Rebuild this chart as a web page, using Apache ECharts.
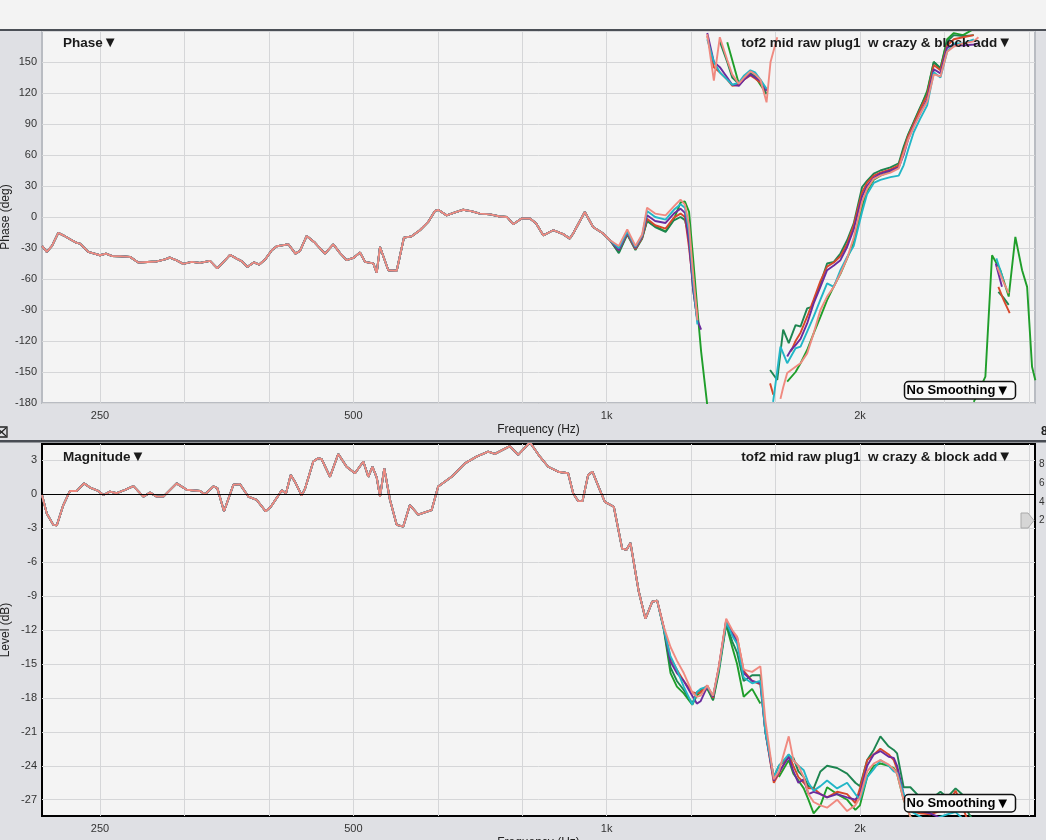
<!DOCTYPE html>
<html><head><meta charset="utf-8">
<script src="https://cdn.jsdelivr.net/npm/echarts@6/dist/echarts.min.js"></script>
<style>html,body{margin:0;padding:0;background:#dfe0e4;}#c{width:1046px;height:840px;}</style>
</head><body><div id="c"></div>
<script>
// ---------- axis ticks ----------
const gridFreqs = [250, 315, 396.9, 500, 630, 793.7, 1000, 1259.9, 1587.4, 2000, 2519.8, 3174.8];
const freqLabels = [250, 500, 1000, 2000];
const levelTicks = [-27, -24, -21, -18, -15, -12, -9, -6, -3, 0, 3];

// ---------- series ----------
const seriesNames = ['green', 'dark green', 'red', 'purple', 'cyan', 'salmon'];
const seriesColors = ['#1f9e2a', '#1d8550', '#d8482c', '#6b2b9e', '#22b6c6', '#f08a80'];

// phase, shared part (all traces overlap) [Hz, deg]
const phaseLow = [[213.3,-28],[216.1,-33.8],[219.2,-28],[223.0,-15.4],[226.1,-17.7],[230.3,-21.5],[234.6,-25],[236.7,-25.7],[242.1,-33.8],[250,-37],[254.1,-35.4],[258.1,-37.7],[264.1,-38],[271.4,-38.6],[277.6,-44],[292.0,-43],[298.7,-41],[302.7,-39.2],[308.3,-42],[313.9,-45.4],[321.2,-43.4],[328.7,-44.4],[337.8,-42.5],[344.6,-49.8],[351.0,-43],[356.8,-36.7],[363.4,-40.3],[368.7,-43],[374.1,-48.3],[381.0,-43.8],[386.6,-46],[392.7,-41.2],[400.0,-32.2],[405.5,-28.3],[411.4,-27.5],[418.6,-26.4],[426.7,-35.4],[432.1,-32.8],[440.1,-18.3],[450.2,-25],[462.7,-35.4],[473.3,-26.4],[482.1,-35],[490.9,-41.8],[500,-39.6],[509.2,-34.4],[516.3,-43.4],[528.1,-44.9],[533.0,-54],[537.9,-29],[550.2,-51.5],[563.0,-52],[574.3,-19.9],[586.5,-18.7],[599.9,-12.8],[613.4,-5],[625.1,5.8],[630.7,7],[645.4,1.6],[660.4,4.5],[675.4,7],[691.9,5.5],[706.9,3.3],[726.8,2.5],[746.7,0.5],[761.4,0],[774.3,-7],[792.4,-1.5],[810.7,-1.5],[824.3,-6],[840.7,-17.7],[863.9,-12.8],[887.8,-16.6],[904.2,-20.9],[912.4,-16],[942.0,4.8],[963.6,-9.7],[990.5,-16],[1009.3,-22.5]];

// phase, per-trace part [Hz, deg]; null = gap / wrap
const phaseHiGreen = [[1034,-34],[1058,-16],[1082,-31],[1102,-20],[1117,-3.5],[1142,-9],[1175,-14],[1202,-2],[1224,14],[1239,15],[1253,5],[1267,-40],[1282,-90],[1295,-130],[1317,-182],[1330,null],[1391,169],[1436,129],[1457,134],[1482,139],[1501,136],[1523,128],[1549,119],[1600,null],[1639,-159.3],[1677,-150],[1700,-141.5],[1731,-128.7],[1762,-112.6],[1795,-96.6],[1828,-80.4],[1862,-67],[1896,-55],[1931,-40],[1966,-25],[2012,10],[2039,25],[2077,36],[2115,40],[2174,44],[2224,50],[2254,66],[2282,79],[2317,91],[2358,105],[2404,122],[2448,150],[2493,144],[2539,172],[2586,178],[2652,176],[2731,182],[2740,null],[2731,-179],[2819,-154.5],[2871,-37],[2937,-51.5],[3005,-77],[3060,-19.3],[3117,-51.5],[3160,-67.6],[3203,-145],[3232,-158]];
const phaseHiDkgreen = [[1034,-35],[1058,-17],[1082,-32],[1102,-21],[1117,-3.9],[1142,-9.7],[1175,-14.5],[1202,-3.2],[1224,0],[1239,-3],[1253,-20],[1267,-70],[1282,-100],[1295,null],[1363,170],[1391,150],[1410,135],[1436,129],[1457,134],[1482,139],[1501,137],[1523,130],[1549,119],[1556,null],[1564,-148],[1595,-157.7],[1621,-109],[1646,-122],[1677,-104.6],[1700,-106],[1731,-88.4],[1753,-86.9],[1795,-64.3],[1828,-45],[1862,-43.4],[1896,-35.3],[1931,-22.5],[1966,-6.4],[2012,29],[2039,35],[2077,42],[2115,45],[2174,48],[2224,52],[2254,68],[2282,80],[2317,92],[2358,106],[2404,120],[2448,150],[2493,144],[2539,170],[2586,176],[2652,175],[2731,176],[2800,null],[2921,-72.4],[2962,-78],[3005,-85]];
const phaseHiRed = [[1034,-32],[1058,-16],[1082,-31],[1102,-20],[1117,-1.6],[1142,-8],[1175,-11.3],[1202,-0.6],[1224,3.3],[1239,0],[1253,-30],[1267,-65],[1282,-95],[1295,null],[1317,175],[1341,145],[1363,140],[1391,133],[1410,127],[1436,128],[1457,133],[1482,137],[1501,134],[1523,130],[1549,123],[1556,null],[1564,-161],[1578,-172],[1590,null],[1656,-130],[1677,-120],[1700,-112],[1731,-96.5],[1762,-80],[1795,-62],[1828,-48],[1862,-44],[1896,-38],[1931,-26],[1966,-8],[2012,24],[2039,33],[2077,40],[2115,43],[2174,46],[2224,50],[2254,64],[2282,78],[2317,90],[2358,104],[2404,118],[2448,147],[2493,142],[2539,166],[2586,172],[2652,174],[2731,176],[2800,null],[2921,-67.6],[2962,-80],[3013,-93]];
const phaseHiPurple = [[1034,-32],[1058,-15],[1082,-30],[1102,-19],[1117,1.6],[1142,-3.9],[1175,-5.8],[1202,3.3],[1224,8.1],[1239,4],[1253,-25],[1267,-70],[1282,-100],[1295,-109],[1305,null],[1317,178],[1341,150],[1363,145],[1391,135],[1410,128],[1436,127],[1457,133],[1482,138],[1501,135],[1523,132],[1549,122],[1600,null],[1639,-135],[1656,-128.7],[1677,-124],[1700,-118],[1731,-103],[1762,-83.6],[1795,-67.6],[1828,-51.5],[1862,-47],[1896,-41.8],[1931,-29],[1966,-12],[2012,20],[2039,30],[2077,38],[2115,42],[2174,45],[2224,48],[2254,60],[2282,75],[2317,88],[2358,100],[2404,114],[2448,143],[2493,139],[2539,164],[2586,167],[2652,166],[2731,167],[2766,168],[2800,null],[2900,-45],[2950,-67.6]];
const phaseHiCyan = [[1034,-30],[1058,-14],[1082,-29],[1102,-18],[1117,5.8],[1142,0],[1175,-2.6],[1202,7],[1224,12.3],[1239,9],[1253,-14],[1267,-62],[1282,-104],[1295,null],[1317,172],[1341,150],[1363,140],[1391,133],[1410,128],[1436,130],[1457,137],[1482,142],[1501,140],[1523,133],[1549,124],[1565,null],[1577,-179],[1609,-125.5],[1639,-141.5],[1677,-127],[1700,-125.5],[1731,-111],[1762,-96.5],[1795,-80],[1828,-64.3],[1862,-67.6],[1896,-51.5],[1931,-38.6],[1966,-28],[2012,5],[2039,22],[2077,33],[2115,36],[2174,38.6],[2224,40],[2254,50],[2282,65],[2317,82],[2358,95],[2404,108],[2448,140],[2493,135],[2539,160],[2586,168],[2652,168],[2731,172],[2800,null],[2905,-40],[2962,-61]];
const phaseHiSalmon = [[1034,-28],[1058,-12],[1082,-28],[1102,-17],[1117,9],[1142,3.3],[1175,1.6],[1202,10.3],[1224,16.8],[1239,12],[1253,-8],[1267,-55],[1282,-100],[1295,null],[1317,177],[1341,132],[1363,174],[1391,152],[1410,138],[1436,129],[1457,135],[1482,141],[1501,138],[1523,133],[1549,111],[1566,150],[1595,174],[1602,null],[1609,-176],[1621,-165],[1639,-151],[1677,-145],[1700,-141.5],[1731,-132],[1762,-112.6],[1795,-90],[1828,-77],[1862,-67.6],[1896,-54.6],[1931,-40],[1966,-20],[2012,15],[2039,27],[2077,37],[2115,40],[2174,43],[2224,47],[2254,62],[2282,75],[2317,87],[2358,100],[2404,112],[2448,138],[2493,136],[2539,160],[2586,165],[2652,168],[2731,170],[2766,174],[2800,null],[2911,-48],[2959,-62],[3005,-74]];

// magnitude, shared part [Hz, dB]
const magLow = [[213.3,-0.05],[216.1,-1.7],[220.0,-2.7],[222.1,-2.75],[226.1,-0.95],[230.3,0.3],[234.6,0.3],[239.3,0.97],[243.3,0.6],[248.8,0.3],[252.3,-0.06],[256.9,0.24],[261.7,0.1],[267.7,0.4],[273.9,0.73],[281.5,-0.2],[286.7,0.15],[292.0,-0.2],[297.3,-0.2],[308.3,0.97],[316.9,0.4],[328.7,0.3],[333.2,0],[340.9,0.7],[344.6,0.55],[351.0,-1.5],[360.1,0.85],[366.7,0.9],[375.1,-0.2],[383.9,-0.5],[393.4,-1.5],[398.9,-1.1],[411.1,0.35],[415.9,0.1],[421.3,1.7],[426.3,1.1],[434.1,-0.1],[438.1,0.5],[448.1,2.9],[454.3,3.2],[458.5,3.1],[469.1,1.55],[479.8,3.57],[490.9,2.44],[502.3,1.86],[513.9,2.9],[520.9,1.55],[526.7,2.44],[533.0,1.5],[537.9,-0.2],[544.2,2.3],[552.8,-0.5],[563.0,-2.7],[573.2,-2.85],[583.7,-0.95],[597.1,-1.8],[619.4,-1.4],[630.7,0.7],[654.3,1.55],[678.6,2.74],[700.5,3.33],[723.1,3.77],[736.5,3.57],[767.4,4.27],[785.0,3.48],[810.7,4.6],[833.1,3.33],[852.2,2.44],[875.8,2.0],[900.0,1.86],[912.4,0.1],[924.9,-0.6],[936.1,-0.6],[950.5,1.7],[962.0,2.0],[981.5,0.4],[995.2,-0.66],[1019.8,-1.1],[1043.4,-4.8],[1055.8,-4.9],[1067.4,-4.3],[1091.9,-8.6],[1112.1,-11],[1132.6,-9.5],[1148.3,-9.4]];

// magnitude, per-trace part
const magHiFreq = [1169,1191,1212,1235,1264,1280,1293,1317,1338,1359,1387,1410,1429,1455,1489,1523,1544,1580,1602,1646,1667,1690,1715,1737,1762,1795,1828,1879,1931,1975,2000,2040,2077,2115,2164,2194,2214,2254,2296,2358,2423,2493,2539,2598,2643,2692,2766];
const magHiGreen = [-11.9,-15.8,-17,-17.6,-18.6,-17.8,-17.5,-17.2,-18.2,-15.8,-11.5,-13.5,-15,-17.9,-17.2,-18.5,null,null,-25,-23.5,-24.7,-25.3,-26,-27,-28.2,-27.5,-25.9,-26.5,-27,-27.9,-27.5,-25,-24,-23.8,-24,-24.2,-24.7,-27,-28.5,-29,-29.5,-29,-29.5,-30,-31,-32,-33];
const magHiDkgreen = [-11.8,-15.3,-16.5,-17.3,-18.5,-17.5,-17.3,-17,-18.2,-15.5,-11.4,-13,-14,-16.5,-16,-16,-21,-25,-24,-23.2,-23.3,-24.5,-25,-25.8,-26,-24.5,-24,-24.2,-24.7,-25.5,-25.8,-23.5,-22.6,-21.4,-22.3,-22.6,-22.9,-25.9,-25.9,-26.8,-27,-26.3,-26.8,-26,-26.5,-28.2,-29.5];
const magHiRed = [-11.7,-14.5,-15.5,-16.5,-17.5,-17.6,-17.5,-16.9,-18,-15.3,-11.1,-12.2,-12.6,-15.6,-16.5,-16.8,-21,-25.5,-24.7,-23,-24,-25,-25.5,-26,-26,-26.5,-26.8,-26.3,-26.5,-27.3,-26,-23.5,-23,-22.5,-23,-23.5,-24.3,-26.8,-28,-28.2,-28.3,-28,-27.6,-26.2,-27.5,-29,-31];
const magHiPurple = [-11.8,-14.8,-15.8,-16.5,-17.8,-18.5,-18.3,-17,-17.9,-15.4,-11.2,-12.3,-13,-15.8,-16.5,-16.7,-21,-25.3,-24.6,-23.2,-24.5,-25.5,-25.2,-26.5,-26.3,-26.5,-26.8,-26.5,-26.8,-27,-26.5,-24,-23,-22.7,-23.2,-23.3,-24,-26.5,-28,-28,-28.2,-28.6,-29,-29.5,-30,-31,-32];
const magHiCyan = [-11.9,-14.3,-15.5,-17,-18.6,-17.5,-17.2,-17,-17.8,-15.5,-11.3,-12.5,-13.2,-16.2,-16.7,-16.5,-21,-25,-24,-23,-23.5,-24,-24.4,-25.5,-26.2,-25.8,-25.3,-26,-25.5,-26.5,-27,-25,-24.3,-23.5,-24,-24.5,-24.6,-26.5,-28,-28.5,-29,-28.5,-28.3,-28.1,-28.6,-30,-31];
const magHiSalmon = [-11.7,-13.5,-14.7,-15.8,-17.5,-17.9,-17.8,-16.9,-17.8,-15.3,-11.0,-12.0,-12.6,-15.5,-15.7,-15.2,-20,-25.2,-24.5,-21.4,-23.5,-24,-25,-26.5,-27.2,-27.5,-27.7,-27,-28,-27.5,-26.8,-24.5,-23.8,-23.5,-23.9,-24.3,-24.7,-27,-28.5,-29.5,-30,-30,-29,-28.8,-29,-30,-31];

const phaseHi = [phaseHiGreen, phaseHiDkgreen, phaseHiRed, phaseHiPurple, phaseHiCyan, phaseHiSalmon];
const magHi = [magHiGreen, magHiDkgreen, magHiRed, magHiPurple, magHiCyan, magHiSalmon];

// ---------- chart ----------
const FONT = "'Liberation Sans', Arial, Helvetica, sans-serif";
const chart = echarts.init(document.getElementById('c'), null, {width: 1046, height: 840});
const fmtFreq = v => v >= 1000 ? (v / 1000) + 'k' : String(v);
const splitStyle = {color: '#d5d6d8', width: 1};

const series = [];
seriesNames.forEach((name, i) => {
  series.push({
    name: name, type: 'line', xAxisIndex: 0, yAxisIndex: 0, showSymbol: false, symbol: 'none',
    connectNulls: false, animation: false, clip: true,
    lineStyle: {color: seriesColors[i], width: 1.9}, itemStyle: {color: seriesColors[i]},
    data: phaseLow.concat(phaseHi[i])
  });
});
seriesNames.forEach((name, i) => {
  const s = {
    name: name, type: 'line', xAxisIndex: 1, yAxisIndex: 1, showSymbol: false, symbol: 'none',
    connectNulls: false, animation: false, clip: true,
    lineStyle: {color: seriesColors[i], width: 1.9}, itemStyle: {color: seriesColors[i]},
    data: magLow.concat(magHiFreq.map((f, k) => [f, magHi[i][k]]))
  };
  if (i === 0) {
    s.markLine = {silent: true, symbol: ['none', 'none'], label: {show: false}, animation: false,
      lineStyle: {color: '#000', width: 1.2, type: 'solid'}, data: [{yAxis: 0}]};
  }
  series.push(s);
});

const xAxisBase = (gi) => ({
  type: 'log', logBase: 10, gridIndex: gi, min: 213.3, max: 3229,
  axisLine: {show: false},
  axisTick: {show: false, customValues: gridFreqs},
  splitLine: {show: true, lineStyle: splitStyle},
  axisLabel: {customValues: freqLabels, formatter: fmtFreq, color: '#333', fontSize: 11, fontFamily: FONT, margin: 7},
  name: 'Frequency (Hz)', nameLocation: 'middle', nameGap: 21, nameMoveOverlap: false,
  nameTextStyle: {color: '#222', fontSize: 12, fontFamily: FONT}
});

const titleRich = {
  a: {font: 'bold 13.5px ' + FONT, fill: '#1a1a1a', color: '#1a1a1a'},
  b: {font: 'bold 15px ' + FONT, fill: '#1a1a1a', color: '#1a1a1a'}
};
const boxRich = {
  a: {font: 'bold 13px ' + FONT, color: '#111'},
  b: {font: 'bold 15px ' + FONT, color: '#111'}
};

const option = {
  backgroundColor: '#dfe0e4',
  animation: false,
  grid: [
    {left: 42, top: 31, width: 993, height: 372, show: true, backgroundColor: '#f4f4f4', borderColor: '#b9bcc2', borderWidth: 2, containLabel: false, outerBoundsMode: 'none'},
    {left: 42, top: 444, width: 993, height: 372, show: true, backgroundColor: '#f4f4f4', borderColor: '#000', borderWidth: 2, containLabel: false, outerBoundsMode: 'none'}
  ],
  xAxis: [xAxisBase(0), xAxisBase(1)],
  yAxis: [
    {type: 'value', gridIndex: 0, min: -180, max: 180, interval: 30,
     axisLine: {show: false}, axisTick: {show: false},
     splitLine: {show: true, lineStyle: splitStyle},
     axisLabel: {showMaxLabel: false, color: '#333', fontSize: 11, fontFamily: FONT, margin: 5},
     name: 'Phase (deg)', nameLocation: 'middle', nameRotate: 90, nameGap: 30, nameMoveOverlap: false,
     nameTextStyle: {color: '#222', fontSize: 12, fontFamily: FONT}},
    {type: 'value', gridIndex: 1, min: -28.44, max: 4.45,
     axisLine: {show: false},
     axisTick: {show: false, customValues: levelTicks},
     splitLine: {show: true, lineStyle: splitStyle},
     axisLabel: {customValues: levelTicks, color: '#333', fontSize: 11, fontFamily: FONT, margin: 5},
     name: 'Level (dB)', nameLocation: 'middle', nameRotate: 90, nameGap: 30, nameMoveOverlap: false,
     nameTextStyle: {color: '#222', fontSize: 12, fontFamily: FONT}}
  ],
  series: series,
  graphic: [
    {type: 'rect', shape: {x: 0, y: 0, width: 1046, height: 29}, style: {fill: '#f3f3f3'}, z: 90, silent: true},
    {type: 'rect', shape: {x: 0, y: 29, width: 1046, height: 2}, style: {fill: '#4b4f56'}, z: 90, silent: true},
    {type: 'rect', shape: {x: 0, y: 440, width: 1046, height: 2.5}, style: {fill: '#484c53'}, z: 90, silent: true},
    {type: 'text', x: 63, y: 43, z: 100, style: {text: '{a|Phase}{b|▼}', rich: titleRich, textVerticalAlign: 'middle'}},
    {type: 'text', x: 1012, y: 43, z: 100, style: {text: '{a|tof2 mid raw plug1  w crazy & block add}{b|▼}', rich: titleRich, textAlign: 'right', textVerticalAlign: 'middle'}},
    {type: 'text', x: 63, y: 457, z: 100, style: {text: '{a|Magnitude}{b|▼}', rich: titleRich, textVerticalAlign: 'middle'}},
    {type: 'text', x: 1012, y: 457, z: 100, style: {text: '{a|tof2 mid raw plug1  w crazy & block add}{b|▼}', rich: titleRich, textAlign: 'right', textVerticalAlign: 'middle'}},
    {type: 'rect', shape: {x: 904.5, y: 381.5, width: 111, height: 17.5, r: 4}, style: {fill: '#f8f8f8', stroke: '#111', lineWidth: 1.5}, z: 100},
    {type: 'text', x: 906.5, y: 390.5, z: 101, style: {text: '{a|No Smoothing}{b|▼}', rich: boxRich, textVerticalAlign: 'middle'}},
    {type: 'rect', shape: {x: 904.5, y: 794.5, width: 111, height: 17.5, r: 4}, style: {fill: '#f8f8f8', stroke: '#111', lineWidth: 1.5}, z: 100},
    {type: 'text', x: 906.5, y: 803.5, z: 101, style: {text: '{a|No Smoothing}{b|▼}', rich: boxRich, textVerticalAlign: 'middle'}},
    {type: 'rect', shape: {x: -4, y: 427, width: 11, height: 10}, style: {fill: 'none', stroke: '#222', lineWidth: 1.3}, z: 100},
    {type: 'polyline', shape: {points: [[-3, 428], [6, 436]]}, style: {stroke: '#222', lineWidth: 1.2}, z: 100},
    {type: 'polyline', shape: {points: [[6, 428], [-3, 436]]}, style: {stroke: '#222', lineWidth: 1.2}, z: 100},
    {type: 'text', x: 1041, y: 432, z: 100, style: {text: '8', font: 'bold 12px ' + FONT, fill: '#222', textVerticalAlign: 'middle'}},
    {type: 'text', x: 1039, y: 464, z: 100, style: {text: '8', font: '10px ' + FONT, fill: '#333', textVerticalAlign: 'middle'}},
    {type: 'text', x: 1039, y: 483, z: 100, style: {text: '6', font: '10px ' + FONT, fill: '#333', textVerticalAlign: 'middle'}},
    {type: 'text', x: 1039, y: 502, z: 100, style: {text: '4', font: '10px ' + FONT, fill: '#333', textVerticalAlign: 'middle'}},
    {type: 'text', x: 1039, y: 520, z: 100, style: {text: '2', font: '10px ' + FONT, fill: '#333', textVerticalAlign: 'middle'}},
    {type: 'polygon', shape: {points: [[1021, 513], [1028, 513], [1034, 520.5], [1028, 528], [1021, 528]]}, style: {fill: '#d6d6d6', stroke: '#aaa', lineWidth: 1}, z: 100}
  ]
};
chart.setOption(option);
</script></body></html>
